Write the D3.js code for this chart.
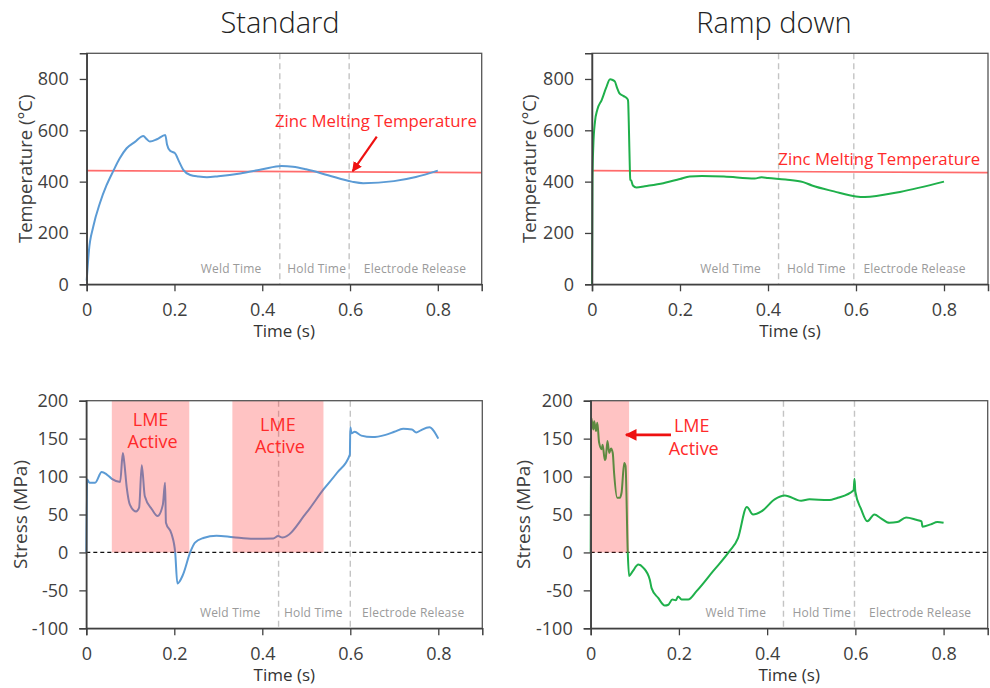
<!DOCTYPE html>
<html><head><meta charset="utf-8">
<script src="https://cdn.jsdelivr.net/npm/d3@7"></script>
<style>
html,body{margin:0;padding:0;background:#fff;}
svg{display:block;font-family:"Open Sans","Noto Sans",sans-serif;}
</style></head>
<body><svg id="c" width="990" height="688"></svg>
<script>
// ---------- data ----------
const panelTitles = ["Standard", "Ramp down"];
const timeTicks = [0, 0.2, 0.4, 0.6, 0.8];
const tempTicks = [0, 200, 400, 600, 800];
const stressTicks = [-100, -50, 0, 50, 100, 150, 200];
const phaseLabels = ["Weld Time", "Hold Time", "Electrode Release"];

// Temperature, standard
const tempStdTime = [0, 0.005, 0.015, 0.03, 0.045, 0.061, 0.075, 0.091, 0.11, 0.129, 0.137, 0.144, 0.16, 0.179, 0.183, 0.19, 0.201, 0.21, 0.22, 0.236, 0.255, 0.274, 0.3, 0.35, 0.4, 0.444, 0.47, 0.5, 0.55, 0.604, 0.63, 0.7, 0.75, 0.8];
const tempStdVal  = [15, 130, 225, 316, 385, 443, 490, 530, 555, 578, 565, 556, 565, 582, 545, 520, 511, 480, 446, 426, 420, 417, 421, 432, 448, 461, 458, 448, 425, 400, 394, 402, 418, 443];

// Temperature, ramp down
const tempRampTime = [0, 0.001, 0.003, 0.0068, 0.012, 0.022, 0.032, 0.041, 0.047, 0.052, 0.057, 0.062, 0.071, 0.081, 0.082, 0.084, 0.086, 0.087, 0.089, 0.093, 0.101, 0.12, 0.162, 0.2, 0.222, 0.25, 0.3, 0.37, 0.385, 0.4, 0.44, 0.48, 0.5, 0.55, 0.6, 0.62, 0.7, 0.8];
const tempRampVal  = [0, 400, 540, 634, 680, 718, 765, 799, 796, 790, 765, 745, 734, 721, 715, 600, 450, 407, 405, 385, 377, 382, 394, 410, 420, 422, 420, 412, 417, 414, 408, 398, 385, 362, 342, 340, 360, 400];

// Stress, standard
const stressStdTime = [0, 0.002, 0.007, 0.02, 0.035, 0.046, 0.058, 0.077, 0.083, 0.086, 0.092, 0.099, 0.113, 0.12, 0.126, 0.133, 0.149, 0.162, 0.174, 0.179, 0.181, 0.194, 0.202, 0.207, 0.22, 0.236, 0.247, 0.266, 0.296, 0.334, 0.38, 0.425, 0.436, 0.446, 0.5, 0.539, 0.57, 0.599, 0.6, 0.603, 0.61, 0.625, 0.65, 0.68, 0.7, 0.72, 0.74, 0.75, 0.76, 0.78, 0.79, 0.8];
const stressStdVal  = [0, 96, 92, 92, 106, 103, 97, 93, 131, 120, 85, 63, 54, 59, 115, 74, 57, 48, 63, 92, 39, 24, 0, -41, -29, 0, 13, 19, 22, 20, 18, 18.5, 21.5, 19.6, 52, 83, 105, 129, 165, 157, 159, 154, 152, 155, 159, 163, 162, 158, 161, 165, 160, 150];

// Stress, ramp down
const stressRampTime = [0, 0.001, 0.006, 0.008, 0.012, 0.015, 0.019, 0.025, 0.027, 0.032, 0.034, 0.038, 0.042, 0.046, 0.05, 0.053, 0.06, 0.066, 0.07, 0.076, 0.079, 0.084, 0.087, 0.095, 0.108, 0.119, 0.134, 0.138, 0.153, 0.168, 0.176, 0.185, 0.193, 0.198, 0.206, 0.221, 0.24, 0.277, 0.315, 0.334, 0.354, 0.368, 0.387, 0.417, 0.44, 0.477, 0.496, 0.538, 0.56, 0.596, 0.598, 0.6, 0.613, 0.627, 0.643, 0.658, 0.677, 0.695, 0.715, 0.738, 0.75, 0.752, 0.771, 0.786, 0.8];
const stressRampVal  = [0, 178, 162, 173, 160, 171, 145, 136, 142, 122, 124, 147, 131, 137, 131, 105, 72, 72, 79, 118, 114, 0, -31, -25, -16, -20, -36, -47, -60, -70, -69, -62, -63, -58, -62, -62, -51, -25, 2, 19, 60, 50, 54, 70, 75, 68, 70, 69, 72, 82, 97, 80, 57, 41, 50, 45, 39, 40, 46, 43, 41, 34, 37, 40, 39];

// Zinc melting line (start / end value)
const zincLine = [443, 435];
// LME active windows [start, end] in s
const lmeStd = [[0.058, 0.234], [0.332, 0.539]];
const lmeRamp = [[0, 0.087]];
// phase boundaries (s)
const phaseStdTemp = [0.44, 0.598];
const phaseRampTemp = [0.424, 0.595];
const phaseStdStress = [0.437, 0.6];
const phaseRampStress = [0.437, 0.598];
// phase label centres (s)
const phaseLblStdTemp = [0.329, 0.524, 0.748];
const phaseLblRampTemp = [0.315, 0.51, 0.733];
const phaseLblStdStress = [0.327, 0.516, 0.743];
const phaseLblRampStress = [0.329, 0.524, 0.747];

// ---------- drawing ----------
const svg = d3.select("#c");
const BLUE = "#5b9bd5", GREEN = "#1fb04b", RED = "#ff2a2a";
const AX = "#404040";

svg.append("text").attr("x", 280).attr("y", 33).attr("text-anchor", "middle")
  .attr("font-size", 29).attr("font-weight", 300).attr("fill", "#222").text(panelTitles[0]);
svg.append("text").attr("x", 774).attr("y", 33).attr("text-anchor", "middle")
  .attr("font-size", 29).attr("font-weight", 300).attr("fill", "#222").text(panelTitles[1]);

function panel(cfg) {
  const g = svg.append("g").attr("transform", `translate(${cfg.x},${cfg.y})`);
  const x = d3.scaleLinear().domain([0, 0.9]).range([0, cfg.w]);
  const y = d3.scaleLinear().domain(cfg.yDomain).range([cfg.h, 0]);

  cfg.phases.forEach(p => {
    g.append("line").attr("x1", x(p)).attr("x2", x(p)).attr("y1", 0).attr("y2", cfg.h)
      .attr("stroke", "#c4c4c4").attr("stroke-width", 1.4).attr("stroke-dasharray", "6,4");
  });
  cfg.phaseLbl.forEach((p, i) => {
    g.append("text").attr("x", x(p)).attr("y", cfg.h - 11).attr("text-anchor", "middle")
      .attr("font-size", 12).attr("fill", "#9a9a9a").attr("letter-spacing", 0.2).text(phaseLabels[i]);
  });

  if (cfg.zero) {
    g.append("line").attr("x1", 0).attr("x2", cfg.w).attr("y1", y(0)).attr("y2", y(0))
      .attr("stroke", "#111").attr("stroke-width", 1.2).attr("stroke-dasharray", "4,3");
  }
  if (cfg.zinc) {
    g.append("line").attr("x1", x(0)).attr("x2", x(0.9)).attr("y1", y(zincLine[0])).attr("y2", y(zincLine[1]))
      .attr("stroke", "#ff6b6b").attr("stroke-width", 1.7);
  }

  const pts = cfg.t.map((t, i) => [t, cfg.v[i]]);
  g.append("path").datum(pts)
    .attr("d", d3.line().x(d => x(d[0])).y(d => y(d[1])).curve(d3.curveMonotoneX))
    .attr("fill", "none").attr("stroke", cfg.color).attr("stroke-width", 2);

  (cfg.lme || []).forEach(b => {
    g.append("rect").attr("x", x(b[0])).attr("width", x(b[1]) - x(b[0]))
      .attr("y", y(200)).attr("height", y(0) - y(200))
      .attr("fill", "rgba(255,40,40,0.28)");
  });

  g.append("rect").attr("x", 0).attr("y", 0).attr("width", cfg.w).attr("height", cfg.h)
    .attr("fill", "none").attr("stroke", "#555").attr("stroke-width", 1.3);

  const xa = g.append("g").attr("transform", `translate(0,${cfg.h})`)
    .call(d3.axisBottom(x).tickValues(timeTicks).tickSize(7).tickPadding(12)
      .tickFormat(d => d === 0 ? "0" : d3.format(".1f")(d)));
  const ya = g.append("g")
    .call(d3.axisLeft(y).tickValues(cfg.yTicks).tickSize(7).tickPadding(11)
      .tickFormat(d => String(d)));
  [xa, ya].forEach(a => {
    a.select(".domain").attr("stroke", AX).attr("stroke-width", 1.5);
    a.selectAll(".tick line").attr("stroke", AX).attr("stroke-width", 1.3);
    a.selectAll(".tick text").attr("fill", "#404040").attr("font-size", 18)
      .attr("font-family", "'Open Sans','Noto Sans',sans-serif");
  });

  g.append("text").attr("x", cfg.w / 2).attr("y", cfg.h + 53).attr("text-anchor", "middle")
    .attr("font-size", 17).attr("fill", "#333").text("Time (s)");
  g.append("text").attr("transform", `translate(${-cfg.ytOff},${cfg.h / 2}) rotate(-90)`)
    .attr("text-anchor", "middle").attr("dy", "0.35em")
    .attr("font-size", cfg.ytSize).attr("fill", "#404040").text(cfg.yTitle);

  return {g, x, y};
}

const p1 = panel({x: 86.7, y: 53.3, w: 395, h: 231, yDomain: [0, 900], yTicks: tempTicks,
  t: tempStdTime, v: tempStdVal, color: BLUE, zinc: true,
  phases: phaseStdTemp, phaseLbl: phaseLblStdTemp, yTitle: "Temperature (\u00B0C)", ytOff: 61, ytSize: 18.5});
const p2 = panel({x: 592, y: 53.3, w: 396, h: 231, yDomain: [0, 900], yTicks: tempTicks,
  t: tempRampTime, v: tempRampVal, color: GREEN, zinc: true,
  phases: phaseRampTemp, phaseLbl: phaseLblRampTemp, yTitle: "Temperature (\u00B0C)", ytOff: 62, ytSize: 18.5});
const p3 = panel({x: 86.3, y: 400.7, w: 396, h: 227.6, yDomain: [-100, 200], yTicks: stressTicks,
  t: stressStdTime, v: stressStdVal, color: BLUE, zero: true, lme: lmeStd,
  phases: phaseStdStress, phaseLbl: phaseLblStdStress, yTitle: "Stress (MPa)", ytOff: 66, ytSize: 19});
const p4 = panel({x: 590.7, y: 400.7, w: 397, h: 227.6, yDomain: [-100, 200], yTicks: stressTicks,
  t: stressRampTime, v: stressRampVal, color: GREEN, zero: true, lme: lmeRamp,
  phases: phaseRampStress, phaseLbl: phaseLblRampStress, yTitle: "Stress (MPa)", ytOff: 67, ytSize: 19});

svg.append("defs").append("marker").attr("id", "ah").attr("viewBox", "0 0 10 10")
  .attr("refX", 9).attr("refY", 5).attr("markerWidth", 4.5).attr("markerHeight", 4.5)
  .attr("orient", "auto").append("path").attr("d", "M0,0 L10,5 L0,10 Z").attr("fill", "#ee1111");

p1.g.append("text").attr("x", p1.x(0.659)).attr("y", p1.y(613)).attr("text-anchor", "middle")
  .attr("font-size", 16.8).attr("fill", RED).text("Zinc Melting Temperature");
p1.g.append("line").attr("x1", p1.x(0.661)).attr("y1", p1.y(575)).attr("x2", p1.x(0.606)).attr("y2", p1.y(441))
  .attr("stroke", "#ee1111").attr("stroke-width", 2.2).attr("marker-end", "url(#ah)");
p2.g.append("text").attr("x", p2.x(0.653)).attr("y", p2.y(465)).attr("text-anchor", "middle")
  .attr("font-size", 16.8).attr("fill", RED).text("Zinc Melting Temperature");

function lme(p, t, v1, v2) {
  p.g.append("text").attr("x", p.x(t)).attr("y", p.y(v1)).attr("text-anchor", "middle")
    .attr("font-size", 18).attr("fill", RED).text("LME");
  p.g.append("text").attr("x", p.x(t) + 2).attr("y", p.y(v2)).attr("text-anchor", "middle")
    .attr("font-size", 18).attr("fill", RED).text("Active");
}
lme(p3, 0.146, 166, 137);
lme(p3, 0.4355, 160, 131);
lme(p4, 0.229, 159, 129);
p4.g.append("line").attr("x1", p4.x(0.182)).attr("y1", p4.y(155)).attr("x2", p4.x(0.080)).attr("y2", p4.y(155))
  .attr("stroke", "#ee1111").attr("stroke-width", 2.6).attr("marker-end", "url(#ah)");
</script></body></html>
